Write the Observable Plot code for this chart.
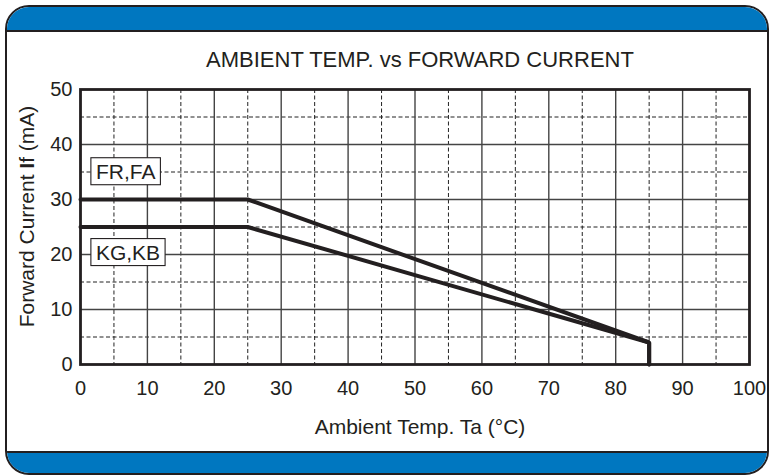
<!DOCTYPE html>
<html>
<head>
<meta charset="utf-8">
<script src="https://cdn.jsdelivr.net/npm/d3@7"></script>
<script src="https://cdn.jsdelivr.net/npm/@observablehq/plot@0.6"></script>
<style>
  html, body { margin: 0; padding: 0; background: #fff; }
  body { font-family: "Liberation Sans", Arial, Helvetica, sans-serif; color: #231f20; }
  #wrap { position: relative; width: 770px; height: 476px; overflow: hidden; }
  #frame { position: absolute; left: 5px; top: 5px; width: 764px; height: 470px; box-sizing: border-box;
           border: 2.5px solid #231f20; border-radius: 24px; overflow: hidden; background: #fff; }
  #bandTop { position: absolute; left: 0; right: 0; top: 0; height: 23px; background: #0077c0; border-bottom: 2.5px solid #231f20; }
  #bandBot { position: absolute; left: 0; right: 0; bottom: 0; height: 20px; background: #0077c0; border-top: 2.5px solid #231f20; }
  #chart { position: absolute; left: 0; top: 0; }
  #title { position: absolute; left: 120px; width: 600px; top: 49px; text-align: center; font-size: 22px; line-height: 22px; white-space: nowrap; }
  #xlabel { position: absolute; left: 220px; width: 400px; top: 416px; text-align: center; font-size: 21px; line-height: 21px; white-space: nowrap; }
  #ylabel { position: absolute; left: 26px; top: 216px; width: 300px; margin-left: -150px; margin-top: -10.5px; text-align: center;
            font-size: 21px; line-height: 21px; white-space: nowrap; transform: rotate(-90deg); }
</style>
</head>
<body>
<div id="wrap">
  <div id="frame"><div id="bandTop"></div><div id="bandBot"></div></div>
  <div id="chart"></div>
  <div id="title">AMBIENT TEMP. vs FORWARD CURRENT</div>
  <div id="xlabel">Ambient Temp. Ta (°C)</div>
  <div id="ylabel">Forward Current <b>I</b>f (mA)</div>
</div>
<script>
// ---- data ----
const tempTicks = [0, 10, 20, 30, 40, 50, 60, 70, 80, 90, 100];
const currentTicks = [0, 10, 20, 30, 40, 50];
const majorGridTemp = [10, 20, 30, 40, 50, 60, 70, 80, 90];
const minorGridTemp = [5, 15, 25, 35, 45, 55, 65, 75, 85, 95];
const majorGridCurrent = [10, 20, 30, 40];
const minorGridCurrent = [5, 15, 25, 35, 45];

const seriesNames = ["FR,FA", "KG,KB"];
const frfaTemp = [0, 25, 85, 85];
const frfaCurrent = [30, 30, 4, 0];
const kgkbTemp = [0, 25, 85, 85];
const kgkbCurrent = [25, 25, 4, 0];
const labelTemp = [2.3, 2.3];
const labelCurrent = [35, 20.3];

// ---- tables built from the arrays ----
const lineData = [
  ...frfaTemp.map((t, i) => ({series: seriesNames[0], temp: t, current: frfaCurrent[i]})),
  ...kgkbTemp.map((t, i) => ({series: seriesNames[1], temp: t, current: kgkbCurrent[i]}))
];
const labelData = seriesNames.map((s, i) => ({series: s, temp: labelTemp[i], current: labelCurrent[i]}));

const ink = "#231f20";

const plot = Plot.plot({
  width: 770,
  height: 476,
  marginLeft: 80,
  marginRight: 21,
  marginTop: 89,
  marginBottom: 112,
  style: {fontFamily: "Liberation Sans, Arial, sans-serif", fontSize: "20px", color: ink, background: "transparent", overflow: "visible"},
  x: {domain: [0, 100], ticks: tempTicks, tickSize: 0, tickPadding: 16, label: null},
  y: {domain: [0, 50], ticks: currentTicks, tickSize: 0, tickPadding: 8, label: null},
  marks: [
    Plot.ruleX(minorGridTemp, {stroke: "#222", strokeWidth: 1, strokeDasharray: "4,2.5"}),
    Plot.ruleY(minorGridCurrent, {stroke: "#222", strokeWidth: 1, strokeDasharray: "4,2.5"}),
    Plot.ruleX(majorGridTemp, {stroke: "#444", strokeWidth: 1.4}),
    Plot.ruleY(majorGridCurrent, {stroke: "#444", strokeWidth: 1.4}),
    Plot.frame({stroke: ink, strokeWidth: 2.8}),
    Plot.line(lineData, {x: "temp", y: "current", z: "series", stroke: ink, strokeWidth: 4, strokeLinejoin: "miter"}),
    Plot.text(labelData, {x: "temp", y: "current", text: "series", textAnchor: "start", fontSize: 21, fill: ink})
  ]
});
document.getElementById("chart").appendChild(plot);

// white boxes with thin border behind the series labels
d3.select(plot).selectAll("text").filter(function () {
  return seriesNames.includes(this.textContent) && !this.closest('g[aria-label*="axis"]');
}).each(function () {
  const bb = this.getBBox();
  const padX = 5, padY = 3;
  const r = document.createElementNS("http://www.w3.org/2000/svg", "rect");
  const tr = this.getAttribute("transform");
  if (tr) r.setAttribute("transform", tr);
  r.setAttribute("x", bb.x - padX);
  r.setAttribute("y", bb.y - padY + 1);
  r.setAttribute("width", bb.width + 2 * padX);
  r.setAttribute("height", bb.height + 2 * padY - 2);
  r.setAttribute("fill", "#fff");
  r.setAttribute("stroke", ink);
  r.setAttribute("stroke-width", 1.1);
  this.parentNode.insertBefore(r, this);
});
</script>
</body>
</html>
